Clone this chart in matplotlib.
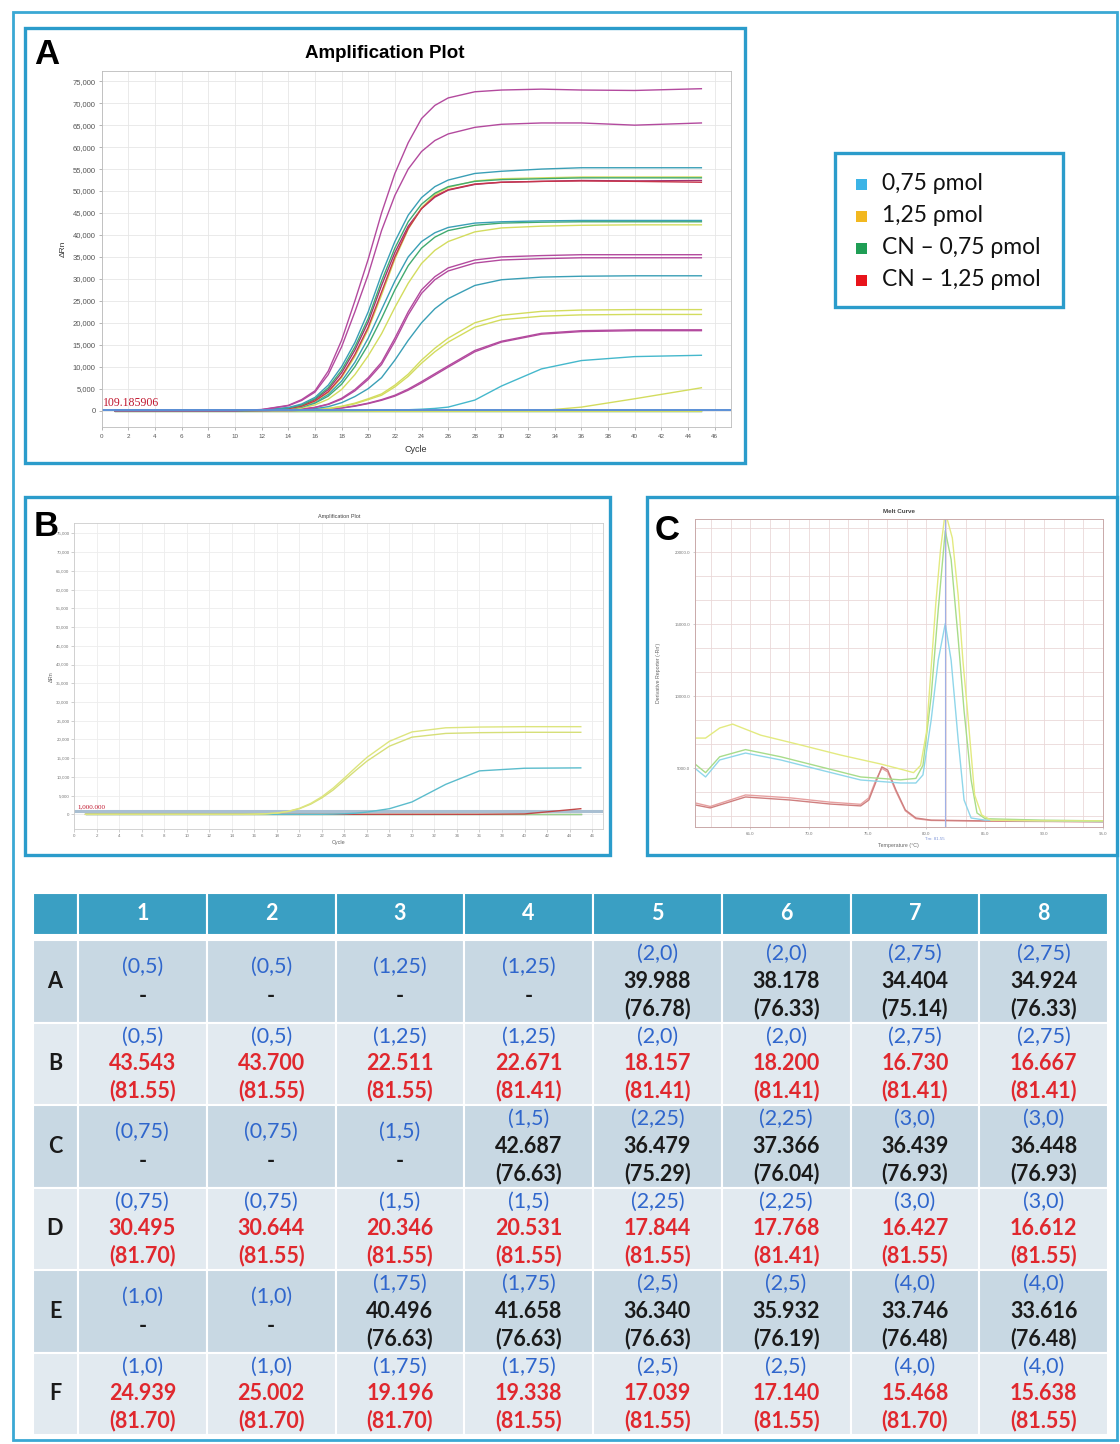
import numpy as np
import matplotlib
matplotlib.use('Agg')
import matplotlib.pyplot as plt
from matplotlib.patches import Rectangle
from matplotlib.ticker import FuncFormatter

W, H = 1120, 1444

# ---------------- panel A : amplification curves ----------------
cyc = [1, 10, 12, 14, 15, 16, 17, 18, 19, 20, 21, 22, 23, 24, 25, 26, 28, 30, 33, 36, 40, 45]
a_m1 = [0, 0, 250, 1200, 2500, 4500, 9000, 16000, 25000, 34500, 45000, 54000, 61000, 66500, 69500, 71200, 72600, 73000, 73200, 73000, 72900, 73300]
a_m2 = [0, 0, 220, 1100, 2300, 4200, 8200, 14500, 22500, 31000, 41000, 49000, 55000, 59000, 61500, 63000, 64500, 65200, 65500, 65500, 65000, 65500]
a_t1 = [0, 0, 100, 700, 1500, 3000, 5800, 10000, 15500, 22500, 31000, 38500, 44500, 48500, 51000, 52500, 54000, 54500, 55000, 55300, 55300, 55300]
a_g1 = [0, 0, 80, 600, 1300, 2700, 5200, 9200, 14500, 21000, 29500, 37000, 43000, 47000, 49500, 51000, 52200, 52600, 52800, 53000, 53000, 53000]
a_r1 = [0, 0, 50, 450, 1000, 2200, 4300, 7800, 12800, 19000, 27000, 35000, 41500, 46000, 48800, 50300, 51600, 52000, 52200, 52300, 52200, 52000]
a_y1 = [0, 0, 50, 420, 950, 2100, 4100, 7500, 12300, 18500, 26300, 34500, 41300, 46200, 49200, 50800, 52300, 52800, 53000, 53200, 53200, 53200]
a_m3 = [0, 0, 70, 550, 1200, 2500, 4800, 8600, 13800, 20200, 28500, 36000, 42000, 46000, 48600, 50200, 51500, 52000, 52200, 52400, 52300, 52400]
a_t3 = [0, 0, 50, 400, 900, 1900, 3700, 6700, 11000, 16500, 23000, 29500, 35000, 38500, 40500, 41700, 42700, 43000, 43200, 43300, 43300, 43300]
a_g3 = [0, 0, 40, 350, 800, 1700, 3300, 6000, 10000, 15000, 21000, 27500, 33000, 37000, 39500, 41000, 42200, 42700, 42900, 43000, 43000, 43000]
a_y2 = [0, 0, 30, 250, 600, 1300, 2600, 4800, 8200, 12500, 17500, 23500, 29000, 33500, 36500, 38500, 40700, 41600, 42000, 42200, 42300, 42300]
a_m4 = [0, 0, 20, 150, 350, 750, 1500, 2800, 4800, 7500, 11000, 16500, 22500, 27500, 30500, 32500, 34300, 35000, 35300, 35500, 35500, 35500]
a_m5 = [0, 0, 20, 140, 330, 700, 1400, 2600, 4500, 7100, 10500, 15800, 21800, 26700, 29800, 31800, 33600, 34300, 34600, 34800, 34800, 34800]
a_t4 = [0, 0, 10, 80, 200, 450, 900, 1800, 3200, 5000, 7500, 11500, 16000, 20000, 23200, 25500, 28500, 29800, 30400, 30600, 30700, 30700]
a_y3 = [0, 0, 0, 50, 120, 250, 500, 1000, 1700, 2700, 3800, 5800, 8300, 11500, 14200, 16500, 20000, 21700, 22600, 22900, 23000, 23000]
a_y4 = [0, 0, 0, 40, 100, 220, 450, 900, 1550, 2500, 3500, 5400, 7800, 10800, 13400, 15600, 19000, 20700, 21500, 21800, 21900, 21900]
a_m6 = [0, 0, 0, 30, 80, 160, 320, 620, 1100, 1700, 2500, 3500, 4900, 6600, 8400, 10200, 13700, 15800, 17600, 18200, 18400, 18400]
a_m7 = [0, 0, 0, 25, 70, 150, 300, 580, 1000, 1600, 2350, 3300, 4650, 6300, 8100, 9900, 13400, 15600, 17400, 18000, 18200, 18200]
a_t5 = [0, 0, 0, 0, 0, 0, 0, 10, 20, 50, 80, 130, 200, 320, 500, 800, 2400, 5600, 9500, 11400, 12300, 12600]
a_y5 = [0, 0, 0, 0, 0, 0, 0, 0, 0, 0, 0, 0, 0, 0, 0, 0, 0, 0, 0, 800, 2700, 5200]
a_flat = [0, 0, 0, 0, 0, 0, 0, 0, 0, 0, 0, 0, 0, 0, 0, 0, 0, 0, 0, 0, 0, 0]
threshold_a = 109.185906

# ---------------- panel B ----------------
b_y1 = [0, 0, 0, 0, 0, 50, 150, 350, 800, 1600, 2900, 4700, 7000, 9700, 12500, 15200, 19500, 22000, 23100, 23300, 23400, 23400]
b_y2 = [0, 0, 0, 0, 0, 40, 130, 320, 740, 1500, 2700, 4400, 6500, 9100, 11700, 14200, 18200, 20600, 21600, 21800, 21900, 21900]
b_t1 = [0, 0, 0, 0, 0, 0, 0, 0, 0, 0, 0, 0, 50, 150, 300, 600, 1500, 3300, 8000, 11600, 12300, 12400]
b_r1 = [0, 0, 0, 0, 0, 0, 0, 0, 0, 0, 0, 0, 0, 0, 0, 0, 0, 0, 0, 0, 100, 1500]
b_flat = [0, 0, 0, 0, 0, 0, 0, 0, 0, 0, 0, 0, 0, 0, 0, 0, 0, 0, 0, 0, 0, 0]
threshold_b = 1000.0

# ---------------- panel C : melt curves ----------------
c_yel_t = [60.3, 61.2, 62.4, 63.5, 65.9, 69.3, 72.7, 76.1, 78.0, 78.9, 79.5, 80.0, 80.4, 80.8, 81.2, 81.6, 82.2, 82.7, 83.1, 83.5, 84.1, 84.7, 85.5, 90.0, 95.0]
c_yel_v = [7100, 7100, 7800, 8070, 7300, 6620, 5920, 5300, 4900, 4700, 5200, 7500, 12000, 16500, 20200, 22800, 21000, 17000, 12500, 8900, 3150, 1760, 1400, 1350, 1350]
c_grn_t = [60.3, 61.2, 62.4, 64.6, 67.6, 71.0, 74.4, 77.8, 79.1, 79.7, 80.4, 81.0, 81.6, 82.1, 82.7, 83.2, 83.8, 84.3, 85.0, 90.0, 95.0]
c_grn_v = [5300, 4700, 5800, 6300, 5800, 5100, 4400, 4200, 4300, 5200, 10000, 16000, 21500, 19500, 14000, 9000, 4200, 1900, 1500, 1400, 1350]
c_cya_t = [60.3, 61.2, 62.4, 64.6, 67.6, 71.0, 74.4, 77.8, 79.1, 79.7, 80.4, 81.0, 81.6, 82.1, 82.7, 83.2, 83.8, 85.0, 90.0, 95.0]
c_cya_v = [5000, 4400, 5580, 6060, 5580, 4880, 4190, 3980, 3980, 4540, 8350, 12500, 15050, 12500, 6970, 2800, 1550, 1400, 1350, 1300]
c_red_t = [60.3, 61.6, 64.6, 68.4, 71.8, 74.4, 75.1, 75.7, 76.2, 76.7, 77.4, 78.2, 79.1, 80.4, 85.0, 95.0]
c_red_v = [2460, 2250, 3010, 2800, 2520, 2390, 2800, 4050, 5100, 4880, 3500, 2110, 1550, 1400, 1350, 1300]
c_sal_v = [2600, 2350, 3150, 2950, 2650, 2500, 2950, 4200, 5000, 4750, 3400, 2050, 1500, 1380, 1330, 1280]
tm_line = 81.55

# ---------------- legend ----------------
leg_labels = ['0,75 \u03c1mol', '1,25 \u03c1mol', 'CN \u2013 0,75 \u03c1mol', 'CN \u2013 1,25 \u03c1mol']
leg_colors = ['#3cb4e6', '#f2b820', '#1f9e55', '#e8141b']

# ---------------- table ----------------
col_names = ['1', '2', '3', '4', '5', '6', '7', '8']
row_names = ['A', 'B', 'C', 'D', 'E', 'F']
conc = [
    ['(0,5)', '(0,5)', '(1,25)', '(1,25)', '(2,0)', '(2,0)', '(2,75)', '(2,75)'],
    ['(0,5)', '(0,5)', '(1,25)', '(1,25)', '(2,0)', '(2,0)', '(2,75)', '(2,75)'],
    ['(0,75)', '(0,75)', '(1,5)', '(1,5)', '(2,25)', '(2,25)', '(3,0)', '(3,0)'],
    ['(0,75)', '(0,75)', '(1,5)', '(1,5)', '(2,25)', '(2,25)', '(3,0)', '(3,0)'],
    ['(1,0)', '(1,0)', '(1,75)', '(1,75)', '(2,5)', '(2,5)', '(4,0)', '(4,0)'],
    ['(1,0)', '(1,0)', '(1,75)', '(1,75)', '(2,5)', '(2,5)', '(4,0)', '(4,0)'],
]
ct = [
    ['-', '-', '-', '-', '39.988', '38.178', '34.404', '34.924'],
    ['43.543', '43.700', '22.511', '22.671', '18.157', '18.200', '16.730', '16.667'],
    ['-', '-', '-', '42.687', '36.479', '37.366', '36.439', '36.448'],
    ['30.495', '30.644', '20.346', '20.531', '17.844', '17.768', '16.427', '16.612'],
    ['-', '-', '40.496', '41.658', '36.340', '35.932', '33.746', '33.616'],
    ['24.939', '25.002', '19.196', '19.338', '17.039', '17.140', '15.468', '15.638'],
]
tm = [
    ['', '', '', '', '(76.78)', '(76.33)', '(75.14)', '(76.33)'],
    ['(81.55)', '(81.55)', '(81.55)', '(81.41)', '(81.41)', '(81.41)', '(81.41)', '(81.41)'],
    ['', '', '', '(76.63)', '(75.29)', '(76.04)', '(76.93)', '(76.93)'],
    ['(81.70)', '(81.55)', '(81.55)', '(81.55)', '(81.55)', '(81.41)', '(81.55)', '(81.55)'],
    ['', '', '(76.63)', '(76.63)', '(76.63)', '(76.19)', '(76.48)', '(76.48)'],
    ['(81.70)', '(81.70)', '(81.70)', '(81.55)', '(81.55)', '(81.55)', '(81.70)', '(81.55)'],
]

# colours
MAG = '#b34a9e'
TEA = '#3a9fb6'
GRN = '#41aa70'
RED = '#c8344a'
YEL = '#d3dc5e'
BOX = '#2b9ccb'


def px(x0, y0, x1, y1):
    return [x0 / W, 1 - y1 / H, (x1 - x0) / W, (y1 - y0) / H]


fig = plt.figure(figsize=(W / 100, H / 100), dpi=100)
plt.rcParams['font.family'] = ['Liberation Sans', 'DejaVu Sans']

bg = fig.add_axes([0, 0, 1, 1])
bg.set_xlim(0, W)
bg.set_ylim(H, 0)
bg.axis('off')

# outer frame and panel boxes
bg.add_patch(Rectangle((13, 12), 1104, 1428, fill=False, ec='#3aa8d4', lw=2.0))
for (x0, y0, x1, y1) in [(25, 28, 745, 463), (25, 497, 610, 855), (647, 497, 1117, 855)]:
    bg.add_patch(Rectangle((x0, y0), x1 - x0, y1 - y0, fill=True, fc='white', ec=BOX, lw=2.4, zorder=2))

thousands = FuncFormatter(lambda v, p: '{:,}'.format(int(v)))

# ---------------- panel A ----------------
axA = fig.add_axes(px(101.7, 70.7, 730.7, 427.3))
axA.set_xticks(range(0, 47, 2))
axA.set_yticks(range(0, 75001, 5000))
axA.set_xlim(0, 47.2)
axA.set_ylim(-3800, 77400)
axA.yaxis.set_major_formatter(thousands)
axA.grid(True, color='#e6e6e6', lw=0.6)
axA.tick_params(labelsize=5.5, labelcolor='#555555', length=2.5, width=0.5, color='#999999', pad=2)
axA.tick_params(axis='x', labelsize=4.5)
for s in axA.spines.values():
    s.set_color('#bbbbbb')
    s.set_linewidth(0.6)
axA.set_xlabel('Cycle', fontsize=6.5, color='#333333', labelpad=5)
axA.set_ylabel('\u0394Rn', fontsize=6, color='#333333', labelpad=4)
bg.text(385, 53, 'Amplification Plot', fontsize=13.5, fontweight='bold', ha='center', va='center')

a_curves = [(a_flat, TEA), (a_flat, YEL), (a_y5, YEL), (a_t5, '#45b8cc'), (a_m7, MAG), (a_m6, MAG),
            (a_y4, YEL), (a_y3, YEL), (a_t4, TEA), (a_m5, MAG), (a_m4, MAG),
            (a_y2, YEL), (a_g3, GRN), (a_t3, TEA), (a_m3, '#a3336f'), (a_y1, YEL),
            (a_r1, RED), (a_g1, GRN), (a_t1, TEA), (a_m2, MAG), (a_m1, MAG)]
for vals, col in a_curves:
    axA.plot(cyc, vals, color=col, lw=1.0)
axA.axhline(threshold_a, color='#5b8fd6', lw=1.4)
axA.text(0.1, threshold_a + 300, '{:.6f}'.format(threshold_a), color='#c0142c', fontsize=8.5,
         family='Liberation Serif', va='bottom', ha='left')

# ---------------- panel B ----------------
axB = fig.add_axes(px(74.3, 523.3, 603.3, 829.3))
axB.set_xticks(range(0, 47, 2))
axB.set_yticks(range(0, 75001, 5000))
axB.set_xlim(0, 47)
axB.set_ylim(-4000, 77700)
axB.yaxis.set_major_formatter(thousands)
axB.grid(True, color='#ededed', lw=0.6)
axB.tick_params(labelsize=3.2, labelcolor='#777777', length=2, width=0.4, color='#aaaaaa', pad=1.5)
for s in axB.spines.values():
    s.set_color('#cccccc')
    s.set_linewidth(0.6)
axB.set_xlabel('Cycle', fontsize=4, color='#666666', labelpad=1)
axB.set_ylabel('\u0394Rn', fontsize=4, color='#666666', labelpad=2)
axB.set_title('Amplification Plot', fontsize=4, color='#444444', pad=4)
axB.axhline(threshold_b, color='#a9bfd2', lw=2.2)
for vals, col in [(b_flat, '#999999'), (b_flat, '#9ad18b'), (b_r1, '#c04848'), (b_t1, '#5bbccc'),
                  (b_y2, '#d6df78'), (b_y1, '#dde57e')]:
    axB.plot(cyc, vals, color=col, lw=1.0)
axB.text(0.3, threshold_b + 300, '1,000.000', color='#c0142c', fontsize=5,
         family='Liberation Serif', va='bottom', ha='left')

# ---------------- panel C ----------------
axC = fig.add_axes(px(695, 519, 1102.7, 826.7))
axC.set_xticks(np.arange(65, 96, 5))
axC.set_xticks(np.arange(60 + 5 / 3, 95.1, 5 / 3), minor=True)
axC.set_yticks(np.arange(5000, 20001, 5000))
axC.set_yticks(np.arange(5000 - 2 * 5000 / 3, 22313, 5000 / 3), minor=True)
axC.set_xlim(60.3, 95)
axC.set_ylim(946, 22313)
axC.xaxis.set_major_formatter(FuncFormatter(lambda v, p: '{:.1f}'.format(v)))
axC.yaxis.set_major_formatter(FuncFormatter(lambda v, p: '{:.1f}'.format(v)))
axC.grid(True, which='both', color='#ead8d8', lw=0.6)
axC.tick_params(labelsize=3.2, labelcolor='#777777', length=1.5, width=0.4, color='#aaaaaa', pad=2)
axC.tick_params(which='minor', length=0)
for s in axC.spines.values():
    s.set_color('#c9a9a9')
    s.set_linewidth(0.7)
axC.set_xlabel('Temperature (\u00b0C)', fontsize=3.8, color='#666666', labelpad=5)
axC.set_ylabel("Derivative Reporter (-Rn')", fontsize=3.8, color='#666666', labelpad=10)
axC.set_title('Melt Curve', fontsize=4.5, fontweight='bold', color='#444444', pad=4)
axC.plot(c_red_t, c_sal_v, color='#e6a0a0', lw=1.0)
axC.plot(c_red_t, c_red_v, color='#cf7f7f', lw=1.0)
axC.plot(c_cya_t, c_cya_v, color='#8fd6ea', lw=1.0)
axC.plot(c_grn_t, c_grn_v, color='#a8dc8a', lw=1.0)
axC.plot(c_yel_t, c_yel_v, color='#e3ea80', lw=1.0)
axC.axvline(tm_line, color='#9fb0e6', lw=0.8)
axC.text(tm_line, -0.035, 'Tm: {:.2f}'.format(tm_line), transform=axC.get_xaxis_transform(),
         fontsize=3.2, color='#7f95d8', ha='right', va='top')

# panel letters
fig.text(34 / W, 1 - 54 / H, 'A', fontsize=25, fontweight='bold', va='center', ha='left')
fig.text(34 / W, 1 - 526 / H, 'B', fontsize=25, fontweight='bold', va='center', ha='left')
fig.text(655 / W, 1 - 531 / H, 'C', fontsize=25, fontweight='bold', va='center', ha='left')

# ---------------- legend box ----------------
bg.add_patch(Rectangle((835, 153), 228, 154, fill=True, fc='white', ec=BOX, lw=2.4))
for i, (lab, col) in enumerate(zip(leg_labels, leg_colors)):
    yc = 184 + i * 32
    bg.add_patch(Rectangle((856, yc - 5.5), 11, 11, fc=col, ec='none'))
    bg.text(882, yc, lab, fontsize=16.5, family=['Lato', 'DejaVu Sans'], va='center', ha='left',
            color='#111111')

# ---------------- table ----------------
HDR = '#3a9fc3'
DARK = '#c8d8e3'
LIGHT = '#e2eaf0'
col_edges = np.linspace(78, 1108, len(col_names) + 1)
row_edges = np.linspace(940, 1435, len(row_names) + 1)
tfont = ['Lato', 'DejaVu Sans']
fs = 15.5

bg.add_patch(Rectangle((33, 893), 45, 42, fc=HDR, ec='white', lw=1.5))
for j, name in enumerate(col_names):
    x0, x1 = col_edges[j], col_edges[j + 1]
    bg.add_patch(Rectangle((x0, 893), x1 - x0, 42, fc=HDR, ec='white', lw=1.5))
    bg.text((x0 + x1) / 2, 914, name, color='white', fontsize=15.5, fontweight='bold', family=tfont,
            ha='center', va='center')

for i, rname in enumerate(row_names):
    y0, y1 = row_edges[i], row_edges[i + 1]
    yc = (y0 + y1) / 2
    fc = DARK if i % 2 == 0 else LIGHT
    vcol = '#1a1a1a' if i % 2 == 0 else '#e0282e'
    bg.add_patch(Rectangle((33, y0), 45, y1 - y0, fc=fc, ec='white', lw=1.5))
    bg.text(55, yc, rname, fontsize=15.5, fontweight='bold', family=tfont, ha='center', va='center',
            color='#1a1a1a')
    for j in range(len(col_names)):
        x0, x1 = col_edges[j], col_edges[j + 1]
        xc = (x0 + x1) / 2
        bg.add_patch(Rectangle((x0, y0), x1 - x0, y1 - y0, fc=fc, ec='white', lw=1.5))
        if tm[i][j] == '':
            bg.text(xc, yc - 14, conc[i][j], fontsize=fs, family=tfont, ha='center', va='center',
                    color='#2f66cc')
            bg.text(xc, yc + 15, ct[i][j], fontsize=fs, fontweight='bold', family=tfont,
                    ha='center', va='center', color='#1a1a1a')
        else:
            bg.text(xc, yc - 27, conc[i][j], fontsize=fs, family=tfont, ha='center', va='center',
                    color='#2f66cc')
            bg.text(xc, yc, ct[i][j], fontsize=fs, fontweight='bold', family=tfont,
                    ha='center', va='center', color=vcol)
            bg.text(xc, yc + 27, tm[i][j], fontsize=fs, fontweight='bold', family=tfont,
                    ha='center', va='center', color=vcol)

fig.savefig('out.png', dpi=100)
